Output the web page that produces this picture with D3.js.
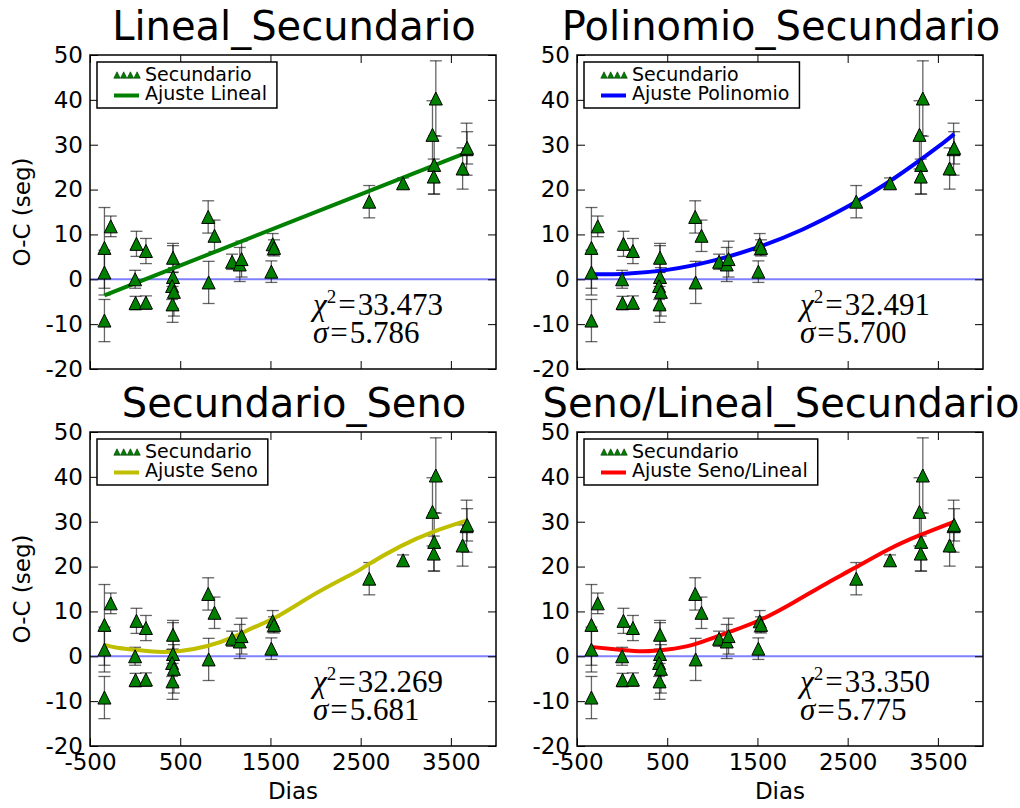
<!DOCTYPE html>
<html>
<head>
<meta charset="utf-8">
<script src="https://cdn.jsdelivr.net/npm/d3@7"></script>
<style>
  body { margin: 0; background: #fff; }
  text { font-family: "DejaVu Sans", sans-serif; }
</style>
</head>
<body>
<div id="chart"></div>
<script>
var canvasWidth = 1020;
var canvasHeight = 808;

// observed O-C of the secondary minima
var dias  = [-340, -340, -340, -270, 15, 0, 5, 120, 120, 420, 420, 410, 430, 415, 810, 815, 880, 1075, 1160, 1180, 1510, 1525, 1540, 2595, 2970, 3296, 3333, 3315, 3310, 3630, 3674, 3680];
var oc    = [7.0, 1.5, -9.2, 11.8, 7.9, 0.0, -5.3, 6.3, -5.2, 4.8, 0.5, -1.5, -2.8, -5.6, 13.9, -0.7, 9.7, 3.9, 3.3, 4.5, 1.7, 7.8, 7.0, 17.3, 21.4, 32.2, 40.3, 25.5, 22.9, 24.7, 29.0, 29.3];
var ocErr = [9.0, 5.0, 4.7, 2.3, 2.8, 2.0, 1.5, 2.8, 1.5, 3.2, 7.0, 3.0, 5.4, 4.0, 3.6, 4.7, 3.5, 1.7, 3.8, 4.0, 2.4, 2.4, 1.8, 3.6, 1.2, 7.6, 8.4, 6.5, 3.9, 4.6, 5.8, 3.6];

// fitted curves
var linealX = [-340, 3680];
var linealY = [-3.6, 28.3];
var polyX = [-340, 0, 500, 1000, 1500, 2000, 2500, 3000, 3500, 3680];
var polyY = [1.15, 1.2, 2.1, 4.1, 7.1, 11.1, 16.2, 22.3, 29.5, 32.4];
var senoX = [-340, -200, 0, 240, 500, 800, 1100, 1310, 1570, 2020, 2430, 2570, 2940, 3310, 3680];
var senoY = [2.55, 1.9, 1.45, 1.0, 1.2, 2.3, 4.4, 6.4, 8.8, 14.2, 18.6, 20.3, 24.5, 27.8, 30.3];
var senoLinX = [-350, 0, 240, 500, 790, 1160, 1530, 1900, 2270, 2570, 2940, 3300, 3680];
var senoLinY = [2.1, 1.4, 1.1, 1.5, 2.6, 5.2, 8.1, 12.0, 16.3, 19.6, 23.7, 27.0, 30.0];

var titles = ["Lineal_Secundario", "Polinomio_Secundario", "Secundario_Seno", "Seno/Lineal_Secundario"];
var fitLabels = ["Ajuste Lineal", "Ajuste Polinomio", "Ajuste Seno", "Ajuste Seno/Lineal"];
var fitColors = ["#008000", "#0000ff", "#bfbf00", "#ff0000"];
var chi2 = ["33.473", "32.491", "32.269", "33.350"];
var sigma = ["5.786", "5.700", "5.681", "5.775"];
var fitsX = [linealX, polyX, senoX, senoLinX];
var fitsY = [linealY, polyY, senoY, senoLinY];

var xTicks = [-500, 500, 1500, 2500, 3500];
var yTicks = [-20, -10, 0, 10, 20, 30, 40, 50];

var svg = d3.select("#chart")
    .append("svg")
    .attr("width", canvasWidth)
    .attr("height", canvasHeight);

svg.append("rect").attr("width", canvasWidth).attr("height", canvasHeight).attr("fill", "white");

var plotW = 406, plotH = 314;
var lefts = [90, 577, 90, 577];
var tops = [55, 55, 432, 432];

var points = dias.map(function(d, i) { return {x: d, y: oc[i], e: ocErr[i]}; });

/*plain hyphen minus like matplotlib*/
function plainFmt(d) { return String(d); }

function drawPanel(k) {
    var xScale = d3.scaleLinear().domain([-500, 4000]).range([0, plotW]);
    var yScale = d3.scaleLinear().domain([-20, 50]).range([plotH, 0]);

    var g = svg.append("g")
        .attr("transform", "translate(" + lefts[k] + "," + tops[k] + ")");

    /*title*/
    g.append("text")
        .attr("x", plotW / 2 + 1)
        .attr("y", -15)
        .attr("text-anchor", "middle")
        .style("font-size", "40px")
        .text(titles[k]);

    /*zero line*/
    g.append("line")
        .attr("x1", 0).attr("x2", plotW)
        .attr("y1", yScale(0)).attr("y2", yScale(0))
        .attr("stroke", "#7f7fff")
        .attr("stroke-width", 2);

    /*error bars*/
    var eb = g.append("g").attr("stroke", "#000").attr("stroke-opacity", 0.6).attr("stroke-width", 1.3);
    eb.selectAll(".bar")
        .data(points)
        .join("line")
        .attr("x1", d => xScale(d.x)).attr("x2", d => xScale(d.x))
        .attr("y1", d => yScale(d.y - d.e)).attr("y2", d => yScale(d.y + d.e));
    eb.selectAll(".capTop")
        .data(points)
        .join("line")
        .attr("x1", d => xScale(d.x) - 6).attr("x2", d => xScale(d.x) + 6)
        .attr("y1", d => yScale(d.y + d.e)).attr("y2", d => yScale(d.y + d.e));
    eb.selectAll(".capBot")
        .data(points)
        .join("line")
        .attr("x1", d => xScale(d.x) - 6).attr("x2", d => xScale(d.x) + 6)
        .attr("y1", d => yScale(d.y - d.e)).attr("y2", d => yScale(d.y - d.e));

    /*fit curve*/
    var fit = fitsX[k].map(function(d, i) { return [d, fitsY[k][i]]; });
    g.append("path")
        .datum(fit)
        .attr("fill", "none")
        .attr("stroke", fitColors[k])
        .attr("stroke-width", 4)
        .attr("d", d3.line()
            .x(d => xScale(d[0]))
            .y(d => yScale(d[1]))
            .curve(d3.curveNatural));

    /*triangles*/
    g.append("g")
        .selectAll("path")
        .data(points)
        .join("path")
        .attr("d", "M0,-6.5L6.5,6.5L-6.5,6.5Z")
        .attr("transform", d => "translate(" + xScale(d.x) + "," + yScale(d.y) + ")")
        .attr("fill", "#008000")
        .attr("stroke", "#000")
        .attr("stroke-width", 1);

    /*axes, ticks inside on all sides*/
    g.append("g")
        .call(d3.axisLeft(yScale).tickValues(yTicks).tickSizeInner(-8).tickSizeOuter(0).tickPadding(7)
            .tickFormat(plainFmt));
    g.append("g")
        .attr("transform", "translate(" + plotW + ",0)")
        .call(d3.axisRight(yScale).tickValues(yTicks).tickSizeInner(-8).tickSizeOuter(0).tickFormat(""));
    g.append("g")
        .attr("transform", "translate(0," + plotH + ")")
        .call(d3.axisBottom(xScale).tickValues(xTicks).tickSizeInner(-8).tickSizeOuter(0).tickPadding(8)
            .tickFormat(k >= 2 ? plainFmt : ""));
    g.append("g")
        .call(d3.axisTop(xScale).tickValues(xTicks).tickSizeInner(-8).tickSizeOuter(0).tickFormat(""));
    g.selectAll(".domain").remove();
    g.selectAll(".tick line").attr("stroke", "#000").attr("stroke-width", 1);
    g.selectAll(".tick text")
        .attr("fill", "#000")
        .style("font-family", "DejaVu Sans")
        .style("font-size", "23px");

    /*frame*/
    g.append("rect")
        .attr("width", plotW).attr("height", plotH)
        .attr("fill", "none").attr("stroke", "#000").attr("stroke-width", 1.5);

    /*axis labels*/
    if (k % 2 == 0) {
        g.append("text")
            .attr("transform", "rotate(-90)")
            .attr("x", -plotH / 2)
            .attr("y", -60)
            .attr("text-anchor", "middle")
            .style("font-size", "23px")
            .text("O-C (seg)");
    }
    if (k >= 2) {
        g.append("text")
            .attr("x", plotW / 2)
            .attr("y", plotH + 53)
            .attr("text-anchor", "middle")
            .style("font-size", "23px")
            .text("Dias");
    }

    /*chi square and sigma*/
    var stats = g.append("text")
        .attr("x", 223)
        .attr("y", 260)
        .style("font-family", "Liberation Serif, serif")
        .style("font-size", "31px");
    stats.append("tspan").style("font-style", "italic").text("\u03c7");
    stats.append("tspan").attr("dy", -12).style("font-size", "19px").text("2");
    stats.append("tspan").attr("dy", 12).attr("dx", 2).text("=");
    stats.append("tspan").attr("dx", 2).text(chi2[k]);
    var sig = g.append("text")
        .attr("x", 223)
        .attr("y", 288)
        .style("font-family", "Liberation Serif, serif")
        .style("font-size", "31px");
    sig.append("tspan").style("font-style", "italic").text("\u03c3");
    sig.append("tspan").attr("dx", 2).text("=");
    sig.append("tspan").attr("dx", 2).text(sigma[k]);

    /*legend*/
    var leg = g.append("g").attr("transform", "translate(7,7)");
    var box = leg.append("rect")
        .attr("fill", "white").attr("stroke", "#000").attr("stroke-width", 1.5)
        .attr("height", 46);
    var t1 = leg.append("text").attr("x", 48).attr("y", 19).style("font-size", "19px").text("Secundario");
    var t2 = leg.append("text").attr("x", 48).attr("y", 38).style("font-size", "19px").text(fitLabels[k]);
    var tw = Math.max(t1.node().getComputedTextLength(), t2.node().getComputedTextLength());
    box.attr("width", 48 + tw + 10);
    leg.selectAll(".lt")
        .data([0, 1, 2, 3])
        .join("path")
        .attr("d", "M0,-3.2L3.2,3.2L-3.2,3.2Z")
        .attr("transform", d => "translate(" + (20 + d * 6.7) + ",13)")
        .attr("fill", "#008000")
        .attr("stroke", "#003000")
        .attr("stroke-width", 0.6);
    leg.append("line")
        .attr("x1", 17).attr("x2", 42)
        .attr("y1", 33.5).attr("y2", 33.5)
        .attr("stroke", fitColors[k])
        .attr("stroke-width", 4);
}

for (var k = 0; k < 4; k++) drawPanel(k);
</script>
</body>
</html>
